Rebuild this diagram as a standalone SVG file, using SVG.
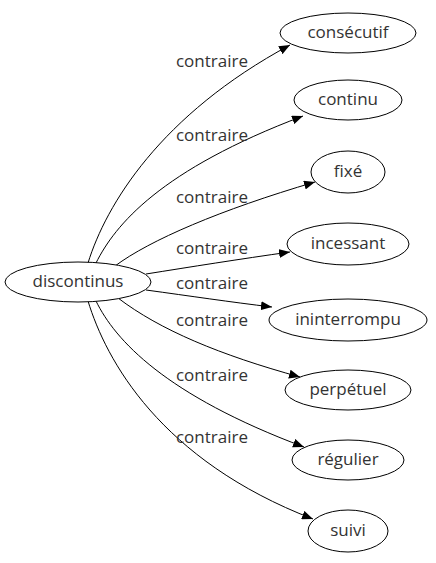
<svg xmlns="http://www.w3.org/2000/svg" width="436" height="563" viewBox="0 0 436 563">
<defs>
<marker id="arr" markerWidth="11" markerHeight="9" refX="11" refY="4.5" orient="auto" markerUnits="userSpaceOnUse">
<path d="M0,0 L11,4.5 L0,9 Z" fill="#000"/>
</marker>
<style>
.n ellipse{fill:#fff;stroke:#000;stroke-width:1}
text{font-family:"Open Sans","Noto Sans",sans-serif;font-size:17px;fill:#333;text-anchor:middle}
.e path{fill:none;stroke:#000;stroke-width:1;marker-end:url(#arr)}
</style>
</defs>
<rect width="436" height="563" fill="#fff"/>
<g id="edges" class="e">
<path d="M88,263 C106,205 160,115 290,45"/>
<path d="M96,263 C115,225 160,170 303,116"/>
<path d="M115,266 C150,240 220,210 315,182"/>
<path d="M146,274 C190,267 240,259 290,252"/>
<path d="M146,290 C190,296 230,302 272,307"/>
<path d="M118,298 C160,330 220,355 300,377"/>
<path d="M96,301 C115,340 165,395 304,447"/>
<path d="M88,301 C106,360 160,460 313,519"/>
<text x="212" y="67">contraire</text>
<text x="212" y="141">contraire</text>
<text x="212" y="203">contraire</text>
<text x="212" y="254">contraire</text>
<text x="212" y="289">contraire</text>
<text x="212" y="326">contraire</text>
<text x="212" y="381">contraire</text>
<text x="212" y="443">contraire</text>
</g>
<g id="discontinus" class="n"><ellipse cx="78" cy="282" rx="73" ry="20"/><text x="78" y="287">discontinus</text></g>
<g id="consecutif" class="n"><ellipse cx="348" cy="33" rx="68" ry="20"/><text x="348" y="38">consécutif</text></g>
<g id="continu" class="n"><ellipse cx="348" cy="100" rx="54" ry="20"/><text x="348" y="105">continu</text></g>
<g id="fixe" class="n"><ellipse cx="348" cy="172" rx="37" ry="21"/><text x="348" y="177">fixé</text></g>
<g id="incessant" class="n"><ellipse cx="348" cy="244" rx="61" ry="21"/><text x="348" y="249">incessant</text></g>
<g id="ininterrompu" class="n"><ellipse cx="348" cy="320" rx="79" ry="21"/><text x="348" y="325">ininterrompu</text></g>
<g id="perpetuel" class="n"><ellipse cx="348" cy="390" rx="63" ry="20"/><text x="348" y="395">perpétuel</text></g>
<g id="regulier" class="n"><ellipse cx="348" cy="460" rx="56" ry="20"/><text x="348" y="465">régulier</text></g>
<g id="suivi" class="n"><ellipse cx="348" cy="531" rx="40" ry="21"/><text x="348" y="536">suivi</text></g>
</svg>
